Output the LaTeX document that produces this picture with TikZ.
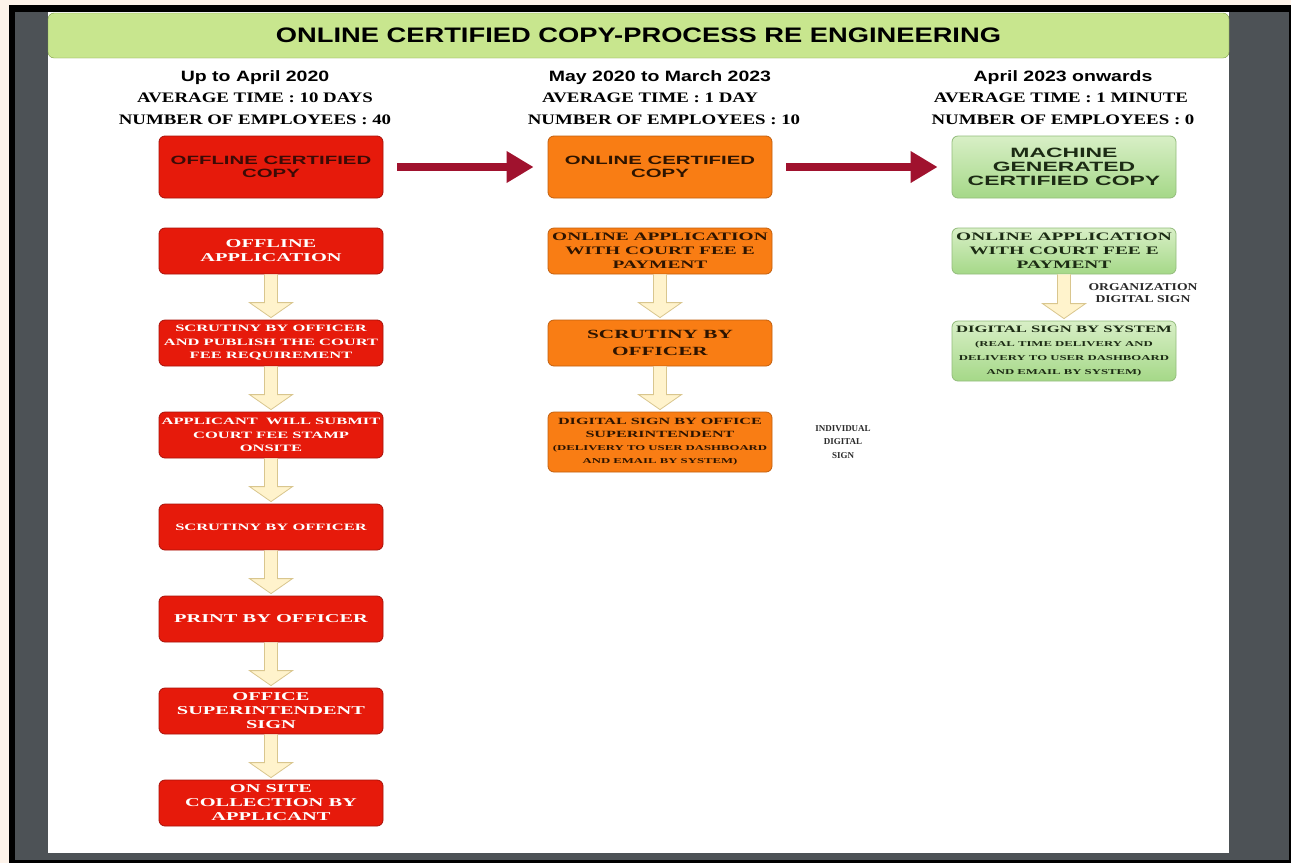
\documentclass[tikz,border=0pt]{standalone}
\usepackage{fontspec}
\setmainfont{Liberation Serif}
\newfontfamily\titlesans[FakeStretch=1.3]{Liberation Sans}
\newfontfamily\boxsans[FakeStretch=1.7]{Liberation Sans}
\newfontfamily\headserif[FakeStretch=1.3]{Liberation Serif}
\newfontfamily\boxserif[FakeStretch=1.7]{Liberation Serif}
\usetikzlibrary{calc,arrows.meta}

\definecolor{cream}{HTML}{FDF3EA}
\definecolor{viewergray}{HTML}{4D5256}
\definecolor{titlegreen}{HTML}{C8E68E}
\definecolor{titleline}{HTML}{7A9A45}
\definecolor{boxred}{HTML}{E61A0B}
\definecolor{boxredline}{HTML}{A8120A}
\definecolor{boxorange}{HTML}{F97D14}
\definecolor{boxorangeline}{HTML}{C2600E}
\definecolor{greentop}{HTML}{D8EFC6}
\definecolor{greenbottom}{HTML}{A5D888}
\definecolor{greenline}{HTML}{93BC7C}
\definecolor{reddark}{HTML}{3B0B06}
\definecolor{orangedark}{HTML}{2E1400}
\definecolor{greendark}{HTML}{1C2B14}
\definecolor{hollowfill}{HTML}{FFF3CC}
\definecolor{hollowline}{HTML}{D9C68E}
\definecolor{arrowred}{HTML}{A0122E}
\definecolor{labelgray}{HTML}{2A2A2A}

\newcommand{\tinyline}{\fontsize{7.5}{12.5}\selectfont}

\begin{document}
\begin{tikzpicture}[x=1pt, y=-1pt,
    box/.style={rounded corners=6pt, minimum width=224pt, minimum height=46pt, inner sep=1pt, align=center, line width=0.8pt},
    redbox/.style={box, fill=boxred, draw=boxredline, text=white},
    orangebox/.style={box, fill=boxorange, draw=boxorangeline, text=orangedark},
    greenbox/.style={box, top color=greentop, bottom color=greenbottom, draw=greenline, text=greendark},
    topbox/.style={minimum height=62pt, font=\boxsans\bfseries\fontsize{12}{13}\selectfont},
    bigtxt/.style={font=\boxserif\bfseries\fontsize{12}{14}\selectfont},
    midtxt/.style={font=\boxserif\bfseries\fontsize{9.7}{13.5}\selectfont},
    heading/.style={font=\titlesans\bfseries\fontsize{15}{18}\selectfont},
    stat/.style={font=\headserif\bfseries\fontsize{14.5}{17}\selectfont},
    sidelabel/.style={align=center, text=labelgray},
    hollow/.style={draw=hollowline, fill=hollowfill, line width=0.8pt},
    bigarrow/.style={draw=arrowred, line width=8pt, -{Triangle[length=27pt, width=30pt]}, shorten <=14pt, shorten >=14pt}
  ]
  \useasboundingbox (0,0) rectangle (1291,863);

  % viewer frame and page
  \fill[cream] (0,0) rectangle (1291,863);
  \fill[black] (9,5) rectangle (1291,863);
  \fill[viewergray] (15,12) rectangle (1289,860);
  \fill[white] (48,12) rectangle (1229,853);
  \node[draw=titleline, fill=titlegreen, rounded corners=6pt, minimum width=1181pt, minimum height=45pt,
        font=\titlesans\bfseries\fontsize{21}{24}\selectfont] (title) at (638.5,35.5)
        {ONLINE CERTIFIED COPY-PROCESS RE ENGINEERING};

  % column headings
  \node[heading] (head1) at (255,78) {Up to April 2020};
  \node[heading] (head2) at (660,78) {May 2020 to March 2023};
  \node[heading] (head3) at (1063,78) {April 2023 onwards};
  \node[stat] (avg1) at (255,98) {AVERAGE TIME : 10 DAYS};
  \node[stat] (avg2) at (650,98) {AVERAGE TIME : 1 DAY};
  \node[stat] (avg3) at (1061,98) {AVERAGE TIME : 1 MINUTE};
  \node[stat] (emp1) at (255,120) {NUMBER OF EMPLOYEES : 40};
  \node[stat] (emp2) at (664,120) {NUMBER OF EMPLOYEES : 10};
  \node[stat] (emp3) at (1063,120) {NUMBER OF EMPLOYEES : 0};

  % up to april 2020
  \node[redbox, topbox, text=reddark] (c1a) at (271,167) {OFFLINE CERTIFIED\\COPY};
  \node[redbox, bigtxt] (c1b) at (271,251) {OFFLINE\\APPLICATION};
  \node[redbox, midtxt] (c1c) at (271,343) {SCRUTINY BY OFFICER\\AND PUBLISH THE COURT\\FEE REQUIREMENT};
  \node[redbox, midtxt] (c1d) at (271,435) {APPLICANT\ \ WILL SUBMIT\\COURT FEE STAMP\\ONSITE};
  \node[redbox, midtxt] (c1e) at (271,527) {SCRUTINY BY OFFICER};
  \node[redbox, bigtxt] (c1f) at (271,619) {PRINT BY OFFICER};
  \node[redbox, bigtxt] (c1g) at (271,711) {OFFICE\\SUPERINTENDENT\\SIGN};
  \node[redbox, bigtxt] (c1h) at (271,803) {ON SITE\\COLLECTION BY\\APPLICANT};

  % may 2020 to march 2023
  \node[orangebox, topbox] (c2a) at (660,167) {ONLINE CERTIFIED\\COPY};
  \node[orangebox, font=\boxserif\bfseries\fontsize{11.4}{14}\selectfont] (c2b) at (660,251)
        {ONLINE APPLICATION\\WITH COURT FEE E\\PAYMENT};
  \node[orangebox, font=\boxserif\bfseries\fontsize{12.5}{17}\selectfont] (c2c) at (660,343) {SCRUTINY BY\\OFFICER};
  \node[orangebox, midtxt, minimum height=60pt, font=\boxserif\bfseries\fontsize{9.5}{13}\selectfont] (c2d) at (660,442)
        {DIGITAL SIGN BY OFFICE\\SUPERINTENDENT\\\tinyline (DELIVERY TO USER DASHBOARD\\\tinyline AND EMAIL BY SYSTEM)};
  \node[sidelabel, font=\bfseries\fontsize{9}{13.5}\selectfont] (lbl2) at (843,442) {INDIVIDUAL\\DIGITAL\\SIGN};

  % april 2023 onwards
  \node[greenbox, topbox, font=\boxsans\bfseries\fontsize{13.5}{14}\selectfont] (c3a) at (1064,167)
        {MACHINE\\GENERATED\\CERTIFIED COPY};
  \node[greenbox, font=\boxserif\bfseries\fontsize{11.4}{14}\selectfont] (c3b) at (1064,251)
        {ONLINE APPLICATION\\WITH COURT FEE E\\PAYMENT};
  \node[greenbox, minimum height=60pt, font=\boxserif\bfseries\fontsize{9.8}{14}\selectfont] (c3c) at (1064,351)
        {DIGITAL SIGN BY SYSTEM\\\tinyline (REAL TIME DELIVERY AND\\\tinyline DELIVERY TO USER DASHBOARD\\\tinyline AND EMAIL BY SYSTEM)};
  \node[sidelabel, font=\headserif\bfseries\fontsize{10.5}{12}\selectfont] (lbl3) at (1143,293) {ORGANIZATION\\DIGITAL SIGN};

  % step arrows
  \foreach \a/\b in {c1b/c1c, c1c/c1d, c1d/c1e, c1e/c1f, c1f/c1g, c1g/c1h, c2b/c2c, c2c/c2d, c3b/c3c}{
      \draw[hollow] ($(\a.south)+(-6.5,0)$) -- ($(\b.north)+(-6.5,-17)$) -- ++(-15,0) -- ($(\b.north)+(0,-2)$)
          -- ($(\b.north)+(21.5,-17)$) -- ++(-15,0) -- ($(\a.south)+(6.5,0)$);
  }

  % process change
  \draw[bigarrow] (c1a) -- (c2a);
  \draw[bigarrow] (c2a) -- (c3a);
\end{tikzpicture}
\end{document}
